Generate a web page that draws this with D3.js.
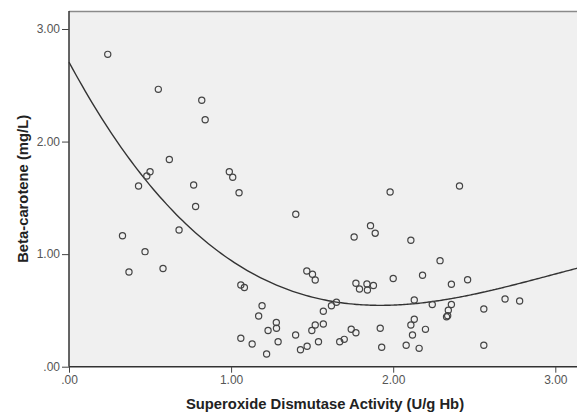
<!DOCTYPE html>
<html>
<head>
<meta charset="utf-8">
<script src="https://cdn.jsdelivr.net/npm/d3@7"></script>
<style>
  body { margin: 0; background: #fff; }
  .tick text { font-family: "Liberation Sans", Arial, sans-serif; font-size: 12px; fill: #555; }
  .axis-title { font-family: "Liberation Sans", Arial, sans-serif; font-size: 14.8px; font-weight: bold; fill: #222; }
</style>
</head>
<body>
<div id="main"></div>
<script>
'use strict'

// SOD activity (U/g Hb) for each subject
const sodValues = [0.239, 0.551, 0.819, 0.840, 0.619, 0.500, 0.480, 0.429, 0.769, 0.989,
  1.010, 1.049, 1.981, 2.409, 0.781, 0.679, 0.330, 0.469, 0.370, 0.580,
  1.399, 1.759, 1.860, 1.889, 1.467, 1.502, 1.519, 1.770, 1.792, 1.838,
  1.841, 1.878, 1.060, 1.082, 1.191, 1.170, 1.650, 1.619, 1.569, 1.279,
  1.280, 1.228, 1.519, 1.498, 1.569, 1.398, 1.060, 1.130, 1.290, 1.469,
  1.428, 1.539, 1.670, 1.698, 1.741, 1.770, 1.219, 1.920, 1.929, 2.109,
  2.289, 2.000, 2.181, 2.359, 2.459, 2.130, 2.241, 2.359, 2.340, 2.336,
  2.329, 2.559, 2.690, 2.780, 2.130, 2.109, 2.199, 2.119, 2.080, 2.160,
  2.559];

// beta-carotene (mg/L), same order
const betaValues = [2.775, 2.464, 2.367, 2.194, 1.841, 1.732, 1.694, 1.605, 1.614, 1.732,
  1.683, 1.546, 1.552, 1.605, 1.423, 1.214, 1.163, 1.022, 0.841, 0.872,
  1.354, 1.152, 1.253, 1.185, 0.850, 0.821, 0.770, 0.741, 0.690, 0.735,
  0.681, 0.721, 0.726, 0.704, 0.542, 0.450, 0.573, 0.542, 0.492, 0.393,
  0.341, 0.322, 0.370, 0.322, 0.379, 0.282, 0.253, 0.202, 0.222, 0.182,
  0.151, 0.222, 0.222, 0.243, 0.333, 0.302, 0.113, 0.342, 0.173, 1.123,
  0.942, 0.784, 0.812, 0.733, 0.773, 0.593, 0.553, 0.553, 0.502, 0.452,
  0.443, 0.513, 0.601, 0.584, 0.422, 0.370, 0.332, 0.282, 0.191, 0.163,
  0.191];

// cubic fit line: a + b x + c x^2 + d x^3
const fitCoef = [2.706, -2.675, 1.0284, -0.1153];

const xTicks = [0, 1, 2, 3];
const xTickLabels = ['.00', '1.00', '2.00', '3.00'];
const yTicks = [0, 1, 2, 3];
const yTickLabels = ['.00', '1.00', '2.00', '3.00'];

const xTitle = 'Superoxide Dismutase Activity (U/g Hb)';
const yTitle = 'Beta-carotene (mg/L)';

drawChart();

function drawChart(){
  let svgWidth = 577;
  let svgHeight = 419;
  let left = 69, top = 11, bottom = 366.7;

  let svg = d3.select('#main')
    .append('svg')
    .attr('width', svgWidth)
    .attr('height', svgHeight);

  //scales
  let xScale = d3.scaleLinear()
    .domain([0, 3.15])
    .range([left, left + 3.15 * 162.1]);
  let yScale = d3.scaleLinear()
    .domain([0, 3.16])
    .range([bottom, top]);

  //plot background + frame
  svg.append('rect')
    .attr('x', left)
    .attr('y', top)
    .attr('width', xScale(3.15) - left)
    .attr('height', bottom - top)
    .attr('fill', '#f0f0f0');
  svg.append('line')
    .attr('x1', left).attr('x2', svgWidth + 5)
    .attr('y1', top + 0.5).attr('y2', top + 0.5)
    .attr('stroke', '#8a8a8a')
    .attr('stroke-width', 1.5);

  //axes
  const xAxis = d3.axisBottom(xScale)
    .tickValues(xTicks)
    .tickSize(6)
    .tickPadding(3)
    .tickFormat((d, i) => xTickLabels[i]);
  const yAxis = d3.axisLeft(yScale)
    .tickValues(yTicks)
    .tickSize(7)
    .tickPadding(2)
    .tickFormat((d, i) => yTickLabels[i]);

  let gx = svg.append('g')
    .attr('transform', 'translate(0,' + bottom + ')')
    .call(xAxis);
  gx.select('.domain').attr('stroke', '#333').attr('stroke-width', 1.5)
    .attr('d', 'M' + left + ',0H' + (svgWidth + 5));
  gx.selectAll('.tick line').attr('stroke', '#444');

  let gy = svg.append('g')
    .attr('transform', 'translate(' + left + ',0)')
    .call(yAxis);
  gy.select('.domain').attr('stroke', '#333').attr('stroke-width', 1.5)
    .attr('d', 'M0,' + top + 'V' + bottom);
  gy.selectAll('.tick line').attr('stroke', '#444');

  //fit line
  let fit = x => fitCoef[0] + fitCoef[1] * x + fitCoef[2] * x * x + fitCoef[3] * x * x * x;
  let xs = d3.range(0, 3.16, 0.02);
  let line = d3.line()
    .x(d => xScale(d))
    .y(d => yScale(fit(d)))
    .curve(d3.curveMonotoneX);
  svg.append('path')
    .datum(xs)
    .attr('d', line)
    .attr('fill', 'none')
    .attr('stroke', '#333')
    .attr('stroke-width', 1.4);

  //points
  svg.selectAll('circle.dot')
    .data(sodValues)
    .enter()
    .append('circle')
    .attr('class', 'dot')
    .attr('cx', d => xScale(d))
    .attr('cy', (d, i) => yScale(betaValues[i]))
    .attr('r', 3.1)
    .attr('fill', 'none')
    .attr('stroke', '#444')
    .attr('stroke-width', 1.2);

  //titles
  svg.append('text')
    .attr('class', 'axis-title')
    .attr('x', (left + svgWidth) / 2 + 2)
    .attr('y', 409)
    .attr('text-anchor', 'middle')
    .text(xTitle);
  svg.append('text')
    .attr('class', 'axis-title')
    .attr('transform', 'translate(28,' + ((top + bottom) / 2) + ') rotate(-90)')
    .attr('text-anchor', 'middle')
    .text(yTitle);
}
</script>
</body>
</html>
